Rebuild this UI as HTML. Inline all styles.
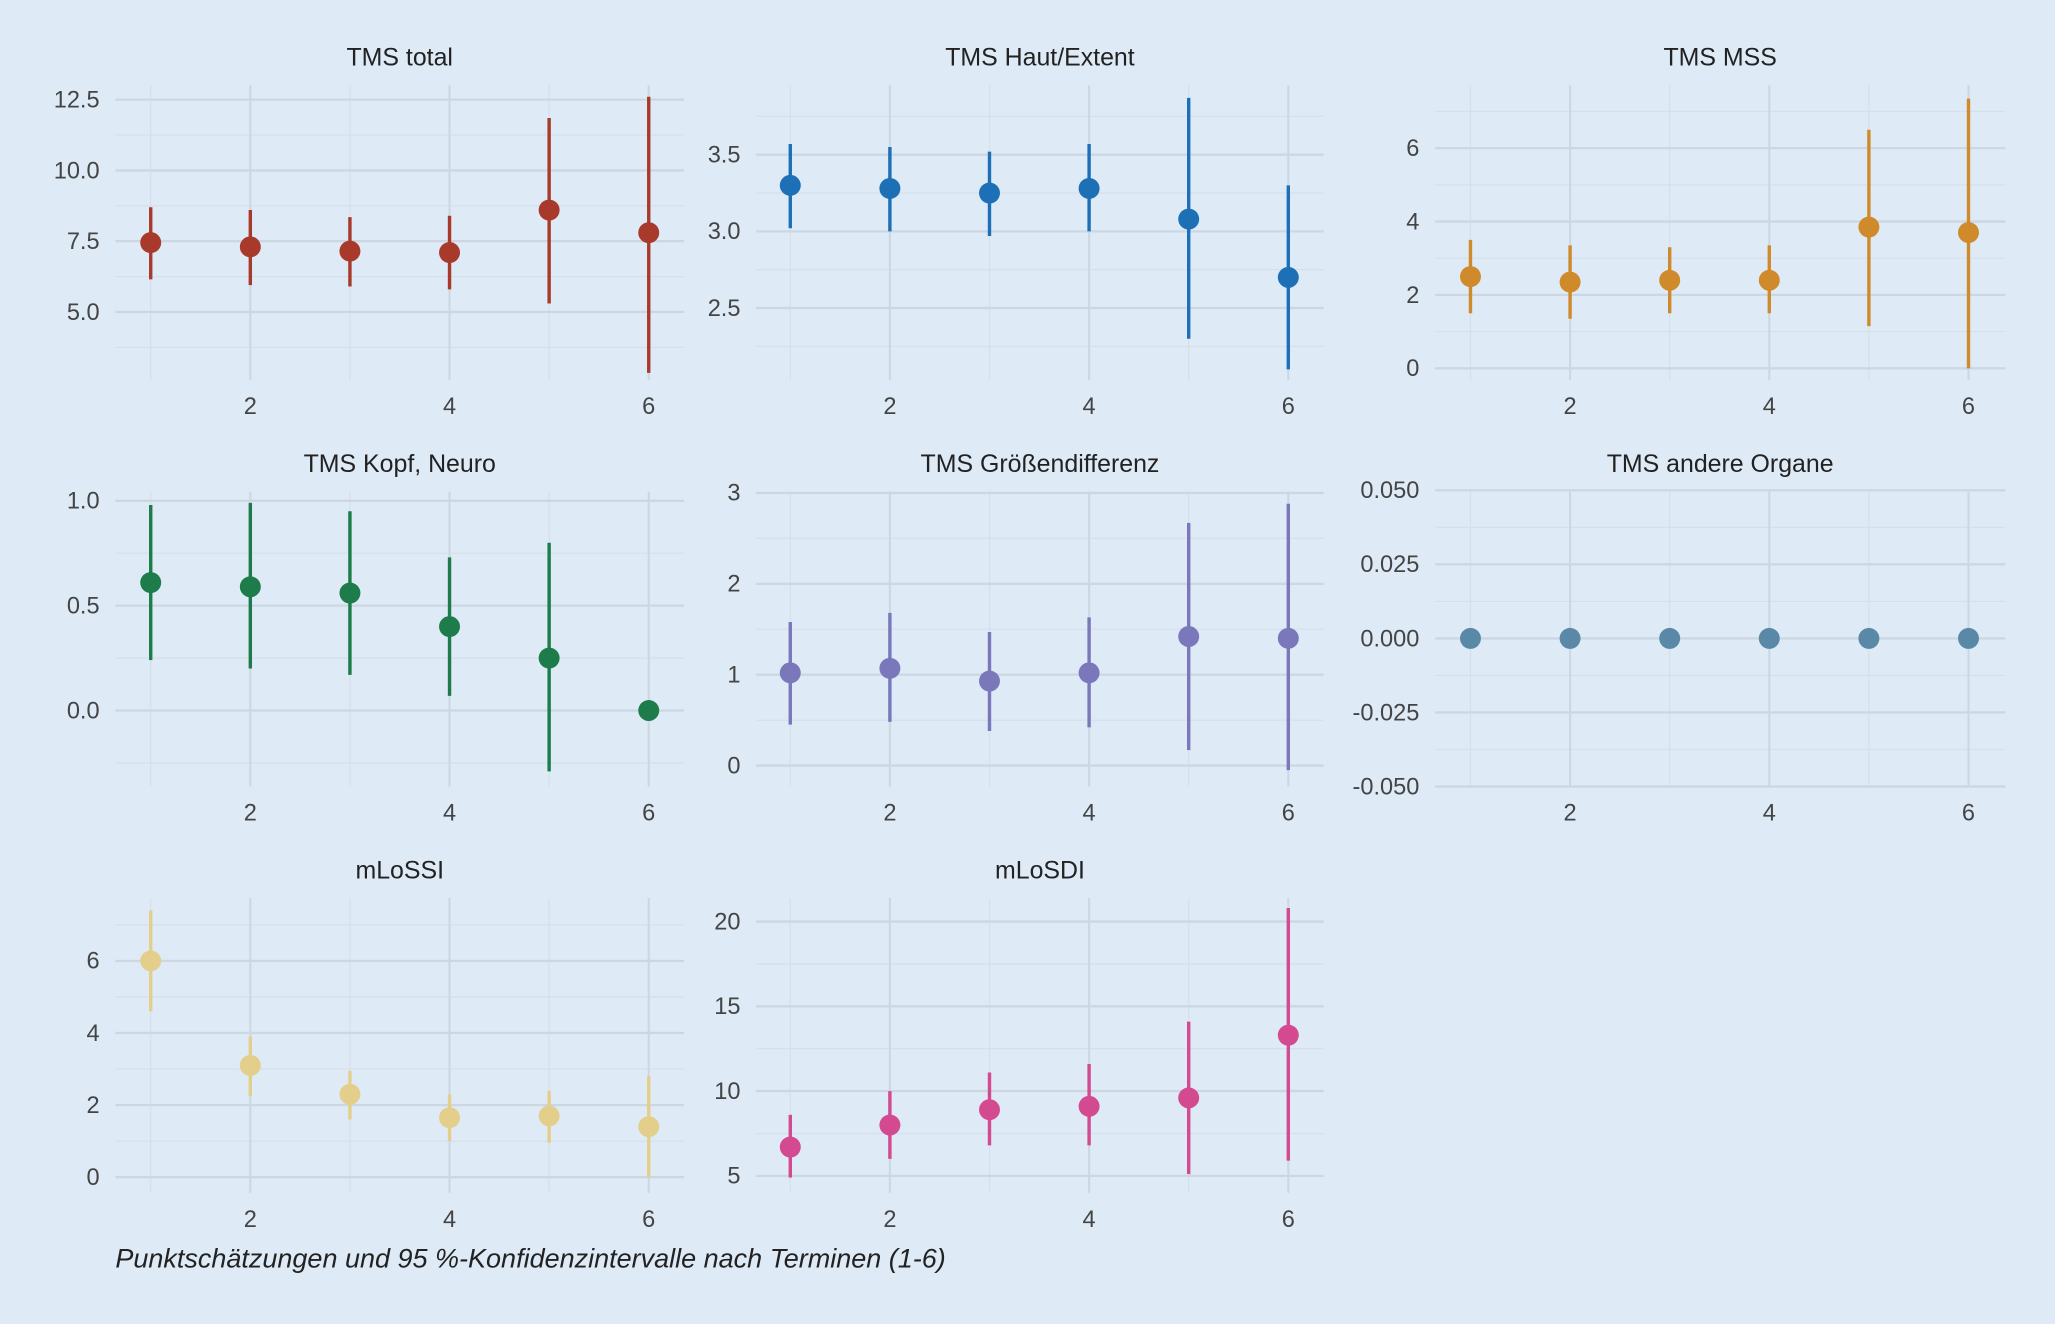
<!DOCTYPE html>
<html><head><meta charset="utf-8"><style>
html,body{margin:0;padding:0;background:#deebf7;}
svg{display:block;font-family:"Liberation Sans",sans-serif;}
</style></head><body>
<svg id="chart" width="2055" height="1324" viewBox="0 0 1568 1010" preserveAspectRatio="none" xmlns="http://www.w3.org/2000/svg">
<rect width="1568" height="1010" fill="#deebf7"/>
<text x="88" y="967" font-size="20.6" font-style="italic" fill="#222">Punktschätzungen und 95 %-Konfidenzintervalle nach Terminen (1-6)</text>
</svg>
<script>
const times = [1,2,3,4,5,6];
const xTicks = [2,4,6];
const titles = ["TMS total","TMS Haut/Extent","TMS MSS","TMS Kopf, Neuro","TMS Größendifferenz","TMS andere Organe","mLoSSI","mLoSDI"];
const est1=[7.45,7.3,7.15,7.1,8.6,7.8], lo1=[6.15,5.95,5.9,5.8,5.3,2.85], hi1=[8.7,8.6,8.35,8.4,11.85,12.6];
const est2=[3.3,3.28,3.25,3.28,3.08,2.7], lo2=[3.02,3.0,2.97,3.0,2.3,2.1], hi2=[3.57,3.55,3.52,3.57,3.87,3.3];
const est3=[2.5,2.35,2.4,2.4,3.85,3.7], lo3=[1.5,1.35,1.5,1.5,1.15,0], hi3=[3.5,3.35,3.3,3.35,6.5,7.35];
const est4=[0.61,0.59,0.56,0.4,0.25,0], lo4=[0.24,0.2,0.17,0.07,-0.29,0], hi4=[0.98,0.99,0.95,0.73,0.8,0];
const est5=[1.02,1.07,0.93,1.02,1.42,1.4], lo5=[0.45,0.48,0.38,0.42,0.17,-0.05], hi5=[1.58,1.68,1.47,1.63,2.67,2.88];
const est6=[0,0,0,0,0,0], lo6=[0,0,0,0,0,0], hi6=[0,0,0,0,0,0];
const est7=[6.0,3.1,2.3,1.65,1.7,1.4], lo7=[4.6,2.25,1.6,1.0,0.95,0], hi7=[7.4,3.9,2.95,2.3,2.4,2.8];
const est8=[6.7,8.0,8.9,9.1,9.6,13.3], lo8=[4.9,6.0,6.8,6.8,5.1,5.9], hi8=[8.6,10.0,11.1,11.6,14.1,20.8];
const yTicks1=[5,7.5,10,12.5], yLab1=["5.0","7.5","10.0","12.5"];
const yTicks2=[2.5,3.0,3.5], yLab2=["2.5","3.0","3.5"];
const yTicks3=[0,2,4,6], yLab3=["0","2","4","6"];
const yTicks4=[0,0.5,1.0], yLab4=["0.0","0.5","1.0"];
const yTicks5=[0,1,2,3], yLab5=["0","1","2","3"];
const yTicks6=[-0.05,-0.025,0,0.025,0.05], yLab6=["-0.050","-0.025","0.000","0.025","0.050"];
const yTicks7=[0,2,4,6], yLab7=["0","2","4","6"];
const yTicks8=[5,10,15,20], yLab8=["5","10","15","20"];

const svg=document.getElementById('chart');
const NS="http://www.w3.org/2000/svg";
function mk(tag,at,parent){const e=document.createElementNS(NS,tag);for(const k in at)e.setAttribute(k,at[k]);(parent||svg).appendChild(e);return e;}
const panels=[
 {L:88,R:522,T:65,B:290,x1:115,x6:495,va:12.5,pa:76,vb:5,pb:238,est:est1,l:lo1,h:hi1,t:yTicks1,tl:yLab1,c:"#a83a2b"},
 {L:577,R:1010,T:65,B:290,x1:603,x6:983,va:3.5,pa:118,vb:2.5,pb:235,est:est2,l:lo2,h:hi2,t:yTicks2,tl:yLab2,c:"#1e70b6"},
 {L:1095,R:1530,T:65,B:290,x1:1122,x6:1502,va:6,pa:113,vb:0,pb:281,est:est3,l:lo3,h:hi3,t:yTicks3,tl:yLab3,c:"#cf8a2b"},
 {L:88,R:522,T:375,B:600,x1:115,x6:495,va:1,pa:382,vb:0,pb:542,est:est4,l:lo4,h:hi4,t:yTicks4,tl:yLab4,c:"#1d7c4a"},
 {L:577,R:1010,T:375,B:600,x1:603,x6:983,va:3,pa:376,vb:0,pb:584,est:est5,l:lo5,h:hi5,t:yTicks5,tl:yLab5,c:"#7a78bb"},
 {L:1095,R:1530,T:375,B:600,x1:1122,x6:1502,va:0.05,pa:374,vb:-0.05,pb:600,est:est6,l:lo6,h:hi6,t:yTicks6,tl:yLab6,c:"#5a89a8"},
 {L:88,R:522,T:685,B:910,x1:115,x6:495,va:6,pa:733,vb:0,pb:898,est:est7,l:lo7,h:hi7,t:yTicks7,tl:yLab7,c:"#e3cf8b"},
 {L:577,R:1010,T:685,B:910,x1:603,x6:983,va:20,pa:703,vb:5,pb:897,est:est8,l:lo8,h:hi8,t:yTicks8,tl:yLab8,c:"#d34a91"}
];
panels.forEach((p,i)=>{
 const g=mk('g',{});
 
 
 const xs=v=>p.x1+(v-1)*(p.x6-p.x1)/5;
 const ys=v=>p.pb+(v-p.vb)*(p.pa-p.pb)/(p.va-p.vb);
 for(let k=0;k<p.t.length+1;k++){
  const step=p.t[1]-p.t[0];const v=p.t[0]-step/2+k*step;
  const y=ys(v); if(y<p.T-2||y>p.B+2) continue;
  const ln=mk('line',{x1:p.L,x2:p.R,y1:y,y2:y,stroke:"#d6e0ea","stroke-width":1},g);
  
  
 }
 times.forEach(t=>{
  const ln=mk('line',{x1:xs(t),x2:xs(t),y1:p.T,y2:p.B,stroke:t%2?"#d6e0ea":"#ccd7e2","stroke-width":t%2?1:1.6},g);
  
  
 });
 p.t.forEach((v,k)=>{
  const y=ys(v);
  const ln=mk('line',{x1:p.L,x2:p.R,y1:y,y2:y,stroke:"#ccd7e2","stroke-width":1.8},g);
  
  
  const tx=mk('text',{x:p.L-12,y:y+6,"text-anchor":"end","font-size":18,fill:"#444"},g);
  tx.textContent=p.tl[k];
  
  
 });
 xTicks.forEach(v=>{
  const tx=mk('text',{x:xs(v),y:p.B+26,"text-anchor":"middle","font-size":18,fill:"#444"},g);
  tx.textContent=v;
  
  
 });
 const tt=mk('text',{x:(p.L+p.R)/2,y:p.T-15,"text-anchor":"middle","font-size":19,fill:"#222"},g);
 tt.textContent=titles[i];
 
 
 times.forEach((t,k)=>{
  if(p.h[k]!==p.l[k]){
   const ci=mk('line',{x1:xs(t),x2:xs(t),y1:ys(p.l[k]),y2:ys(p.h[k]),stroke:p.c,"stroke-width":2.6},g);
   
   
  }
  const pt=mk('circle',{cx:xs(t),cy:ys(p.est[k]),r:8,fill:p.c},g);
  
  
 });
});
</script>
</body></html>
